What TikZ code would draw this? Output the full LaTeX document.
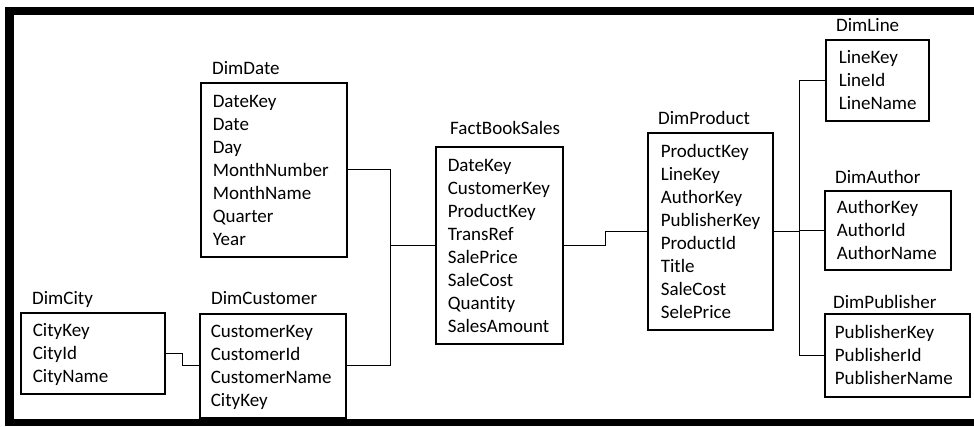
\documentclass[tikz,border=0pt]{standalone}
\usepackage{fontspec}
\setmainfont{Carlito}[Ligatures=NoCommon]
\newcommand{\topstrut}{\rule{0pt}{20pt}}
\tikzset{
  tbl/.style={draw, line width=1.6pt, inner xsep=12pt, inner ysep=0pt, align=left,
    anchor=north west, font=\fontsize{19}{23}\selectfont},
  ttl/.style={inner sep=0pt, anchor=base west, font=\fontsize{19}{23}\selectfont},
  conn/.style={line width=1pt},
  frame/.style={fill=black}
}
\begin{document}
\begin{tikzpicture}[x=1pt,y=-1pt]
\useasboundingbox (0,0) rectangle (974,426);
% frame
\fill[frame] (5,7) rectangle (974,15);
\fill[frame] (5,7) rectangle (14,426);
\fill[frame] (5,419) rectangle (974,426);

% tables
\node[tbl, text width=122pt, minimum height=174pt] (date) at (200,82)
  {\topstrut DateKey\\Date\\Day\\MonthNumber\\MonthName\\Quarter\\Year\strut};
\node[tbl, text width=120pt, minimum height=81pt] (city) at (20,312)
  {\topstrut CityKey\\CityId\\CityName\strut};
\node[tbl, inner xsep=11pt, text width=124pt, minimum height=104pt] (cust) at (199,313)
  {\topstrut CustomerKey\\CustomerId\\CustomerName\\CityKey\strut};
\node[tbl, text width=103pt, minimum height=197pt] (fact) at (435,146)
  {\topstrut DateKey\\CustomerKey\\ProductKey\\TransRef\\SalePrice\\SaleCost\\Quantity\\SalesAmount\strut};
\node[tbl, inner xsep=13pt, text width=99pt, minimum height=197pt] (prod) at (647,132)
  {\topstrut ProductKey\\LineKey\\AuthorKey\\PublisherKey\\ProductId\\Title\\SaleCost\\SelePrice\strut};
\node[tbl, inner xsep=13pt, text width=77pt, minimum height=81pt] (line) at (825,39)
  {\topstrut LineKey\\LineId\\LineName\strut};
\node[tbl, text width=102pt, minimum height=79pt] (author) at (824,190)
  {\topstrut AuthorKey\\AuthorId\\AuthorName\strut};
\node[tbl, inner xsep=10pt, text width=125pt, minimum height=83pt] (pub) at (824,313)
  {\topstrut PublisherKey\\PublisherId\\PublisherName\strut};

% titles
\node[ttl] (dateT) at (212,74) {DimDate};
\node[ttl] (cityT) at (32,304) {DimCity};
\node[ttl] (custT) at (211,304) {DimCustomer};
\node[ttl] (factT) at (450,134) {FactBookSales};
\node[ttl] (prodT) at (658,124) {DimProduct};
\node[ttl] (lineT) at (836,31) {DimLine};
\node[ttl] (authT) at (835,183) {DimAuthor};
\node[ttl] (pubT) at (833,308) {DimPublisher};

% bus coordinates
\coordinate (busA) at (390,0);
\coordinate (busB) at (605,0);
\coordinate (busC) at (799,0);

% connectors
\draw[conn] (date.east) -| (busA |- cust.east) -- (cust.east);
\draw[conn] (fact.west) -- (fact.west -| busA);
\draw[conn] (city.east) -- ++(17,0) |- (cust.west);
\draw[conn] (fact.east) -| (busB |- prod.west) -- (prod.west);
\draw[conn] (prod.east) -- (prod.east -| busC);
\draw[conn] (line.west) -| (busC |- pub.west) -- (pub.west);
\draw[conn] (author.west) -- (author.west -| busC);
\end{tikzpicture}
\end{document}
